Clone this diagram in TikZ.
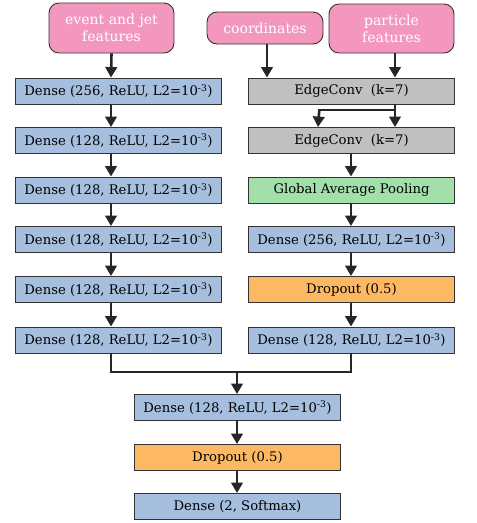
\documentclass[tikz,border=0pt]{standalone}
\usepackage{fontspec}
\setmainfont{DejaVu Serif}
\usetikzlibrary{arrows.meta}
\definecolor{inpink}{HTML}{F497BE}
\definecolor{denseblue}{HTML}{A6BFDE}
\definecolor{convgray}{HTML}{C0C0C0}
\definecolor{poolgreen}{HTML}{A3DFA8}
\definecolor{droporange}{HTML}{FDB863}
\definecolor{edge}{HTML}{333333}
\definecolor{arrowc}{HTML}{262626}
\newcommand{\lreg}{L2=10\textsuperscript{-3})}
\begin{document}
\begin{tikzpicture}[x=1pt,y=-1pt,
  layer/.style={draw=edge, line width=0.9pt, minimum width=206pt, minimum height=26pt,
    inner sep=0pt, font=\fontsize{13.2}{14}\selectfont, text=black},
  dense/.style={layer, fill=denseblue},
  conv/.style={layer, fill=convgray},
  pool/.style={layer, fill=poolgreen},
  drop/.style={layer, fill=droporange},
  inputbox/.style={draw=edge, line width=0.9pt, fill=inpink, rounded corners=10pt,
    text=white, align=center, inner sep=0pt, font=\fontsize{14}{17}\selectfont},
  arr/.style={line width=2.6pt, draw=arrowc, -{Triangle[width=11.5pt,length=10.5pt]}},
  ln/.style={line width=2.6pt, draw=arrowc}
]
\useasboundingbox (0,0) rectangle (477,523);

% inputs
\node[inputbox, minimum width=125pt, minimum height=50pt] (ev) at (111.5,28) {event and jet\\features};
\node[inputbox, minimum width=116pt, minimum height=32pt] (co) at (265,28) {coordinates};
\node[inputbox, minimum width=125pt, minimum height=49pt] (pf) at (391.5,28.5) {particle\\features};

% left branch
\node[dense] (l1) at (118.5,91) {Dense (256, ReLU, \lreg};
\node[dense] (l2) at (118.5,140.5) {Dense (128, ReLU, \lreg};
\node[dense] (l3) at (118.5,190) {Dense (128, ReLU, \lreg};
\node[dense] (l4) at (118.5,239.5) {Dense (128, ReLU, \lreg};
\node[dense] (l5) at (118.5,289.5) {Dense (128, ReLU, \lreg};
\node[dense] (l6) at (118.5,340) {Dense (128, ReLU, \lreg};

% right branch
\node[conv] (r1) at (351.5,91) {EdgeConv~ (k=7)};
\node[conv] (r2) at (351.5,140.5) {EdgeConv~ (k=7)};
\node[pool] (r3) at (351.5,190) {Global Average Pooling};
\node[dense] (r4) at (351.5,239.5) {Dense (256, ReLU, \lreg};
\node[drop] (r5) at (351.5,289.5) {Dropout (0.5)};
\node[dense] (r6) at (351.5,340) {Dense (128, ReLU, \lreg};

% head
\node[dense] (h1) at (237.5,407.5) {Dense (128, ReLU, \lreg};
\node[drop] (h2) at (237.5,457.5) {Dropout (0.5)};
\node[dense] (h3) at (237.5,506.5) {Dense (2, Softmax)};

\coordinate (lx) at (111,0);
\coordinate (cx) at (267,0);
\coordinate (px) at (395,0);
\coordinate (rx) at (351,0);
\coordinate (mx) at (237,0);
\coordinate (split) at (318,110);
\coordinate (merge) at (0,372);

% left chain
\draw[arr] (ev.south) -- (lx |- l1.north);
\draw[arr] (lx |- l1.south) -- (lx |- l2.north);
\draw[arr] (lx |- l2.south) -- (lx |- l3.north);
\draw[arr] (lx |- l3.south) -- (lx |- l4.north);
\draw[arr] (lx |- l4.south) -- (lx |- l5.north);
\draw[arr] (lx |- l5.south) -- (lx |- l6.north);

% right chain
\draw[arr] (cx |- co.south) -- (cx |- r1.north);
\draw[arr] (px |- pf.south) -- (px |- r1.north);
\draw[arr] (px |- r1.south) -- (px |- r2.north);
\draw[ln] (px |- split) -- (split);
\draw[arr] ([xshift=1.3pt]split) -- (split |- r2.north);
\draw[arr] (rx |- r2.south) -- (rx |- r3.north);
\draw[arr] (rx |- r3.south) -- (rx |- r4.north);
\draw[arr] (rx |- r4.south) -- (rx |- r5.north);
\draw[arr] (rx |- r5.south) -- (rx |- r6.north);

% merge and head
\draw[ln, line join=miter] (lx |- l6.south) -- (lx |- merge) -- (rx |- merge) -- (rx |- r6.south);
\draw[arr] (mx |- merge) -- (mx |- h1.north);
\draw[arr] (mx |- h1.south) -- (mx |- h2.north);
\draw[arr] (mx |- h2.south) -- (mx |- h3.north);
\end{tikzpicture}
\end{document}
